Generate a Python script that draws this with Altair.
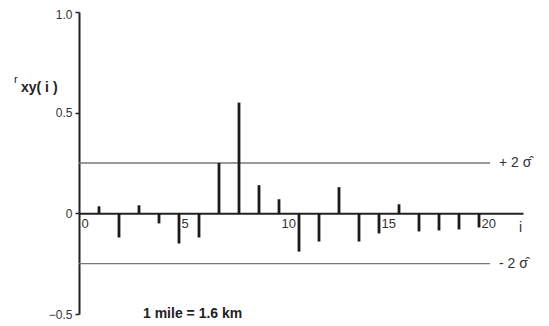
import altair as alt
import pandas as pd

# --- data ---
lags = list(range(1, 21))
r_values = [0.035, -0.12, 0.04, -0.05, -0.15, -0.12, 0.25, 0.55, 0.14, 0.07,
            -0.19, -0.14, 0.13, -0.14, -0.10, 0.045, -0.09, -0.085, -0.08, -0.07]
band_values = [0.25, -0.25]
band_labels = ["+ 2 \u03c3\u0302", "- 2 \u03c3\u0302"]
x_tick_values = [0, 5, 10, 15, 20]
y_tick_values = [-0.5, 0, 0.5, 1.0]
note_text = "1 mile = 1.6 km"

# --- layout ---
W, H = 444, 302
X_MAX = 22.2
Y_MIN, Y_MAX = -0.5, 1.0
FONT = "Liberation Sans"

xs = alt.Scale(domain=[0, X_MAX], nice=False, zero=False)
ys = alt.Scale(domain=[Y_MIN, Y_MAX], nice=False, zero=False)
zero_offset = -H * (0 - Y_MIN) / (Y_MAX - Y_MIN)

bars_df = pd.DataFrame({"lag": lags, "r": r_values})
band_df = pd.DataFrame({"v": band_values, "label": band_labels})

bars = alt.Chart(bars_df).mark_rule(strokeWidth=2.8, color="#1a1a1a").encode(
    x=alt.X("lag:Q", scale=xs, axis=alt.Axis(
        title=None, values=x_tick_values, ticks=False, offset=zero_offset,
        domainColor="#222", domainWidth=2, labelAlign="left", labelOffset=2,
        labelPadding=4, labelFontSize=13, labelColor="#333", labelFont=FONT,
        grid=False)),
    y=alt.Y("r:Q", scale=ys, axis=alt.Axis(
        title=None, values=y_tick_values, tickSize=4, tickColor="#222",
        tickWidth=1.5, domainColor="#222", domainWidth=2, labelFontSize=12,
        labelColor="#333", labelFont=FONT, labelPadding=3, grid=False,
        labelOffset={"condition": {"test": "datum.value == 1", "value": 2}, "value": 0},
        labelExpr="datum.value == 0 ? '0' : format(datum.value, '.1f')")),
    y2=alt.Y2Datum(0),
)

bands = alt.Chart(band_df).mark_rule(strokeWidth=1.3, color="#777").encode(
    y=alt.Y("v:Q", scale=ys, axis=None),
    x=alt.XDatum(0, axis=None),
    x2=alt.X2Datum(20.55),
)

band_text = alt.Chart(band_df).mark_text(
    align="left", baseline="middle", fontSize=14, font=FONT, color="#333"
).encode(
    y=alt.Y("v:Q", scale=ys, axis=None),
    x=alt.XDatum(21.0, axis=None),
    text="label:N",
)

ann_df = pd.DataFrame({"t": ["i"]})
i_label = alt.Chart(ann_df).mark_text(
    align="left", baseline="top", fontSize=14, font=FONT, color="#333", dy=8
).encode(x=alt.XDatum(22.0, axis=None), y=alt.YDatum(0, axis=None), text="t:N")

r_df = pd.DataFrame({"t": ["r"]})
r_label = alt.Chart(r_df).mark_text(
    align="left", baseline="middle", fontSize=11, font=FONT, color="#222"
).encode(x=alt.XDatum(-3.25, axis=None), y=alt.YDatum(0.66, axis=None), text="t:N")

xy_df = pd.DataFrame({"t": ["xy( i )"]})
xy_label = alt.Chart(xy_df).mark_text(
    align="left", baseline="middle", fontSize=14, font=FONT, color="#222",
    fontWeight="bold"
).encode(x=alt.XDatum(-2.9, axis=None), y=alt.YDatum(0.625, axis=None), text="t:N")

note_df = pd.DataFrame({"t": [note_text]})
note = alt.Chart(note_df).mark_text(
    align="left", baseline="middle", fontSize=14, font=FONT, color="#222",
    fontWeight="bold"
).encode(x=alt.XDatum(3.2, axis=None), y=alt.YDatum(-0.5, axis=None), text="t:N")

chart = alt.layer(bands, bars, band_text, i_label, r_label, xy_label, note).resolve_axis(
    x="independent", y="independent"
).properties(
    width=W, height=H,
    autosize=alt.AutoSizeParams(type="none"),
    padding={"left": 71, "top": 4, "right": 18, "bottom": 12},
).configure(background="white", view=alt.ViewConfig(stroke=None))

chart.save("out.html", embed_options={"renderer": "svg", "actions": False})
